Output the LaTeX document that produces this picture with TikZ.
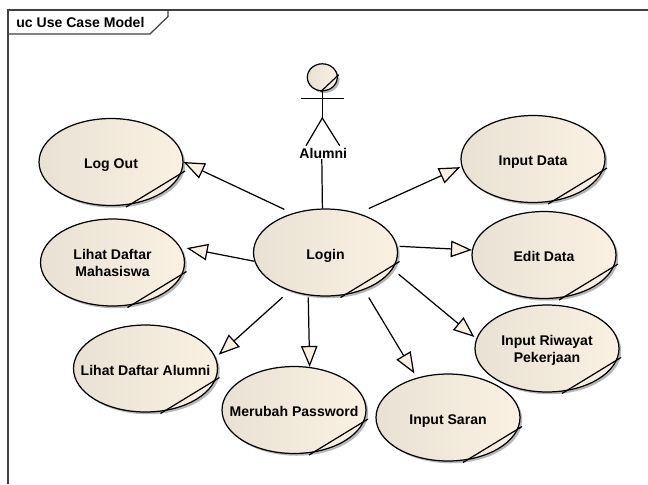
\documentclass[tikz,border=0pt]{standalone}
\usepackage{fontspec}
\setmainfont{Liberation Sans}
\usetikzlibrary{arrows.meta,shapes.geometric,shadows}
\definecolor{casel}{HTML}{E9E1D3}
\definecolor{caser}{HTML}{FAF1E3}
\tikzset{
  usecase/.style={ellipse,draw=black,line width=0.7pt,inner xsep=-1cm,inner ysep=0pt,
    minimum width=2.88cm,minimum height=1.74cm,align=center,text depth=0pt,
    execute at begin node=\rule{0pt}{7.5pt},
    left color=casel,middle color=caser,right color=caser,
    drop shadow={shadow xshift=0.045cm,shadow yshift=-0.045cm,fill=black!70,opacity=0.4},
    font=\fontsize{8}{9.7}\selectfont\bfseries},
  actorline/.style={draw=black,line width=0.7pt},
  generalize/.style={actorline,-{Triangle[length=0.42cm,width=0.33cm,fill=caser]}},
  frameline/.style={draw=black!75,line width=0.7pt}
}
\begin{document}
\begin{tikzpicture}[x=0.02cm,y=-0.02cm]
\useasboundingbox (0,0) rectangle (648,484);
\draw[frameline] (8,484)--(8,10)--(648,10);
\draw[frameline] (8,34)--(150,34)--(168,16.5)--(168,10);
\node[anchor=west,font=\fontsize{8}{9.7}\selectfont\bfseries,inner sep=0pt] (frametitle) at (16,22.7) {uc Use Case Model};

\node[usecase] (logout) at (111,162) {Log Out};
\node[usecase] (mahasiswa) at (112.5,262.5) {Lihat Daftar\\Mahasiswa};
\node[usecase] (daftaralumni) at (145.5,368.5) {Lihat Daftar Alumni};
\node[usecase] (password) at (294,410) {Merubah Password};
\node[usecase] (saran) at (448,417.5) {Input Saran};
\node[usecase] (riwayat) at (547,348.5) {Input Riwayat\\Pekerjaan};
\node[usecase] (editdata) at (544,255) {Edit Data};
\node[usecase] (inputdata) at (533,159) {Input Data};
\node[usecase] (login) at (325.5,252.5) {Login};
\foreach \n in {logout,mahasiswa,daftaralumni,password,saran,riwayat,editdata,inputdata,login}
  \draw[actorline] ([shift={(15,45)}]\n.center)--([shift={(74,9)}]\n.center);

\node[usecase,minimum width=0.6cm,minimum height=0.54cm] (head) at (322.3,77.3) {};
\draw[actorline] ([shift={(-1.6,14.4)}]head.center)--([shift={(16.4,-2.6)}]head.center);
\coordinate (hip) at (322.3,118);
\coordinate (armleft) at (301,98.3);
\coordinate (armright) at (344,98.3);
\coordinate (footleft) at (306,145.7);
\coordinate (footright) at (339.7,145.7);
\draw[actorline] (head.south)--(hip);
\draw[actorline] (armleft)--(armright);
\draw[actorline] (footleft)--(hip)--(footright);
\node[font=\fontsize{8}{9.7}\selectfont\bfseries,inner sep=0pt] (alumni) at (323.3,153.5) {Alumni};

\draw[actorline] (alumni.south -| 321.8,0)--(login.94.6);
\draw[generalize,shorten <=0.18cm] (login.130)--(logout.east);
\draw[generalize,shorten >=0.13cm] (login.187)--(mahasiswa.13.2);
\draw[generalize,shorten <=0.19cm,shorten >=0.08cm] (login.227)--(daftaralumni.9);
\draw[generalize,shorten <=0.04cm] (login.248.7)--(password.70.5);
\draw[generalize,shorten <=0.18cm,shorten >=0.1cm] (login.316)--(saran.128.7);
\draw[generalize,shorten <=0.154cm,shorten >=0.05cm] (login.346)--(riwayat.172);
\draw[generalize,shorten <=0.046cm] (login.5.3)--(editdata.176.8);
\draw[generalize,shorten <=0.226cm,shorten >=0.03cm] (login.50.4)--(inputdata.186.8);
\end{tikzpicture}
\end{document}
